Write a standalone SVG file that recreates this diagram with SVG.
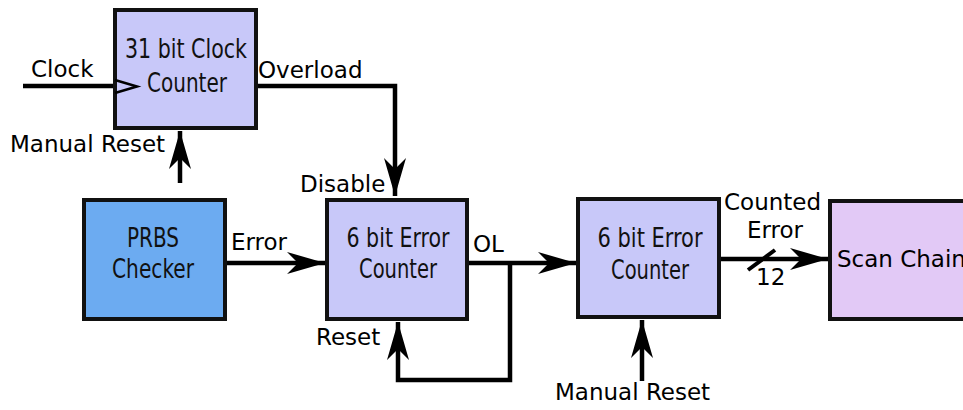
<svg xmlns="http://www.w3.org/2000/svg" width="963" height="410" viewBox="0 0 963 410">
  <defs>
    <marker id="arrow" markerUnits="userSpaceOnUse" markerWidth="44" markerHeight="26" viewBox="-40 -13 44 26" refX="0" refY="0" orient="auto">
      <path d="M0,0 L-38,-11 L-27,0 L-38,11 Z" fill="#000"/>
    </marker>
    <style>
      .box { stroke: #111; stroke-width: 4; }
      .counter { fill: #c8c8f9; }
      .prbs { fill: #6cabf1; }
      .scan { fill: #e2c9f6; }
      .wire { fill: none; stroke: #000; stroke-width: 4.5; stroke-linejoin: miter; }
      .in { font-family: "DejaVu Sans Condensed", "DejaVu Sans", sans-serif; font-size: 26px; fill: #111; text-anchor: middle; }
      .lbl { font-family: "DejaVu Sans", sans-serif; font-size: 23px; fill: #000; }
    </style>
  </defs>

  <!-- signal wiring -->
  <g id="connectors">
    <line class="wire" x1="23" y1="86" x2="115" y2="86"/>
    <path class="wire" d="M256,86 H395 V196" marker-end="url(#arrow)"/>
    <line class="wire" x1="180" y1="183" x2="180" y2="131" marker-end="url(#arrow)"/>
    <line class="wire" x1="225" y1="263" x2="325" y2="263" marker-end="url(#arrow)"/>
    <line class="wire" x1="467" y1="263" x2="576" y2="263" marker-end="url(#arrow)"/>
    <path class="wire" d="M510,263 V380 H398 V322" marker-end="url(#arrow)"/>
    <line class="wire" x1="642" y1="381" x2="642" y2="320" marker-end="url(#arrow)"/>
    <line class="wire" x1="719" y1="259" x2="828" y2="259" marker-end="url(#arrow)"/>
    <!-- bus width slash -->
    <line x1="748" y1="270" x2="775" y2="250" stroke="#000" stroke-width="4"/>
    <text class="lbl" x="31" y="77">Clock</text>
    <text class="lbl" x="258" y="78">Overload</text>
    <text class="lbl" x="10" y="152">Manual Reset</text>
    <text class="lbl" x="300" y="192">Disable</text>
    <text class="lbl" x="231" y="250">Error</text>
    <text class="lbl" x="473" y="252">OL</text>
    <text class="lbl" x="316" y="345">Reset</text>
    <text class="lbl" x="555" y="400">Manual Reset</text>
    <text class="lbl" x="724" y="210">Counted</text>
    <text class="lbl" x="747" y="238">Error</text>
    <text class="lbl" x="756" y="285">12</text>
  </g>

  <g id="clock-counter">
    <rect class="box counter" x="115" y="10" width="141" height="118"/>
    <!-- clock input chevron -->
    <path d="M115,80 L137,86.5 L115,93" fill="none" stroke="#000" stroke-width="2.5"/>
    <text class="in" x="186" y="58" textLength="122" lengthAdjust="spacingAndGlyphs">31 bit Clock</text>
    <text class="in" x="187" y="92" textLength="80" lengthAdjust="spacingAndGlyphs">Counter</text>
  </g>

  <g id="prbs-checker">
    <rect class="box prbs" x="84" y="200" width="141" height="119"/>
    <text class="in" x="153" y="247" textLength="52" lengthAdjust="spacingAndGlyphs">PRBS</text>
    <text class="in" x="153" y="278" textLength="82" lengthAdjust="spacingAndGlyphs">Checker</text>
  </g>

  <g id="error-counter-1">
    <rect class="box counter" x="327" y="200" width="140" height="119"/>
    <text class="in" x="398" y="247" textLength="103" lengthAdjust="spacingAndGlyphs">6 bit Error</text>
    <text class="in" x="398" y="278" textLength="78" lengthAdjust="spacingAndGlyphs">Counter</text>
  </g>

  <g id="error-counter-2">
    <rect class="box counter" x="578" y="199" width="141" height="118"/>
    <text class="in" x="650" y="247" textLength="105" lengthAdjust="spacingAndGlyphs">6 bit Error</text>
    <text class="in" x="650" y="279" textLength="78" lengthAdjust="spacingAndGlyphs">Counter</text>
  </g>

  <g id="scan-chain">
    <rect class="box scan" x="830" y="201" width="160" height="118"/>
    <text class="lbl" x="837" y="267" font-size="25">Scan Chain</text>
  </g>
</svg>
